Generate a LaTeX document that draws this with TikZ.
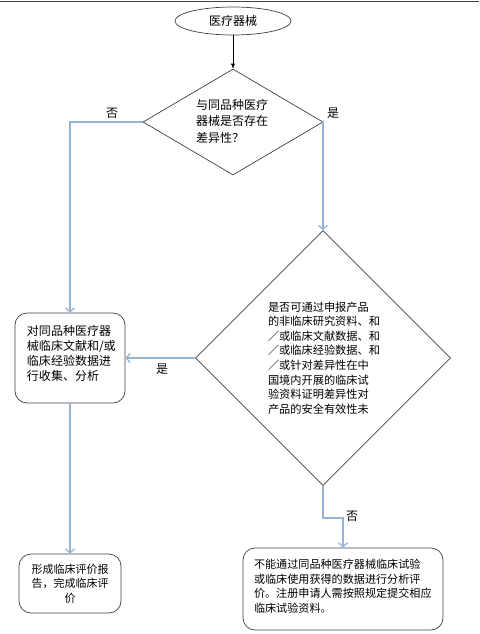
\documentclass[tikz,border=0pt]{standalone}
\usepackage{fontspec}
\setmainfont{Noto Sans CJK SC}
\usetikzlibrary{arrows.meta, shapes.geometric, positioning}
\definecolor{FlowBlue}{RGB}{149,179,215}
\definecolor{EdgeGray}{RGB}{64,64,64}
\tikzset{
  >={Latex[length=5pt,width=4pt]},
  % forme
  start/.style={ellipse,draw=EdgeGray,line width=0.7pt,minimum width=116pt,minimum height=28pt,inner sep=0,font=\fontsize{12}{15}\selectfont},
  choice/.style={diamond,draw=EdgeGray,line width=0.7pt,inner sep=0},
  box/.style={draw=EdgeGray,line width=0.7pt,rounded corners=12pt,inner sep=0},
  txt/.style={inner sep=0,align=left},
  % connessioni
  flow/.style={FlowBlue,line width=1.3pt,-{Straight Barb[length=4pt,width=9pt]}},
  flow label/.style={font=\fontsize{12}{14}\selectfont,inner sep=0}
}
\begin{document}
\begin{tikzpicture}[x=1pt,y=-1pt]
  \useasboundingbox (0,0) rectangle (479,634);
  \draw[EdgeGray,line width=1.5pt] (0,1.5) -- (479,1.5);
  \node[start] (dev) at (233,21) {医疗器械};
  \node[choice,minimum width=180pt,minimum height=106pt] (q1) at (233,122) {};
  \node[txt,text width=74pt,font=\fontsize{12}{16.5}\selectfont] (q1t) at (233,121) {与同品种医疗\\器械是否存在\\差异性？};
  \node[choice,minimum width=255pt,minimum height=255pt] (q2) at (323,358) {};
  \node[txt,text width=112pt,font=\fontsize{11.2}{14.6}\selectfont] (q2t) at (324,358) {是否可通过申报产品\\的非临床研究资料、和\\／或临床文献数据、和\\／或临床经验数据、和\\／或针对差异性在中\\国境内开展的临床试\\验资料证明差异性对\\产品的安全有效性未};
  \node[box,minimum width=110pt,minimum height=90pt] (collect) at (70,358) {};
  \node[txt,text width=86pt,font=\fontsize{12}{15}\selectfont] (collectt) at (70,353) {对同品种医疗器\\械临床文献和/或\\临床经验数据进\\行收集、分析};
  \node[box,minimum width=102pt,minimum height=59pt,align=center,font=\fontsize{11}{14.5}\selectfont] (report) at (70,583.5) {形成临床评价报\\告，完成临床评\\价};
  \node[box,minimum width=200pt,minimum height=82pt] (trial) at (343,589) {};
  \node[txt,text width=178pt,font=\fontsize{11.1}{14.5}\selectfont] (trialt) at (343,586) {不能通过同品种医疗器械临床试验\\或临床使用获得的数据进行分析评\\价。注册申请人需按照规定提交相应\\临床试验资料。};
  \draw[->] (dev.south) -- (q1.north);
  \draw[flow] (q1.west) -| (collect.north);
  \draw[flow] (q1.east) -| (q2.north);
  \draw[flow] (q2.west) -- (collect.east);
  \draw[flow] (collect.south) -- (report.north);
  \draw[flow] (q2.south) -- ++(0,32) -| (trial.north);
  \node[flow label] (no1) at (112,113) {否};
  \node[flow label] (yes1) at (333,113) {是};
  \node[flow label] (yes2) at (162,369) {是};
  \node[flow label] (no2) at (352,516) {否};
\end{tikzpicture}
\end{document}
